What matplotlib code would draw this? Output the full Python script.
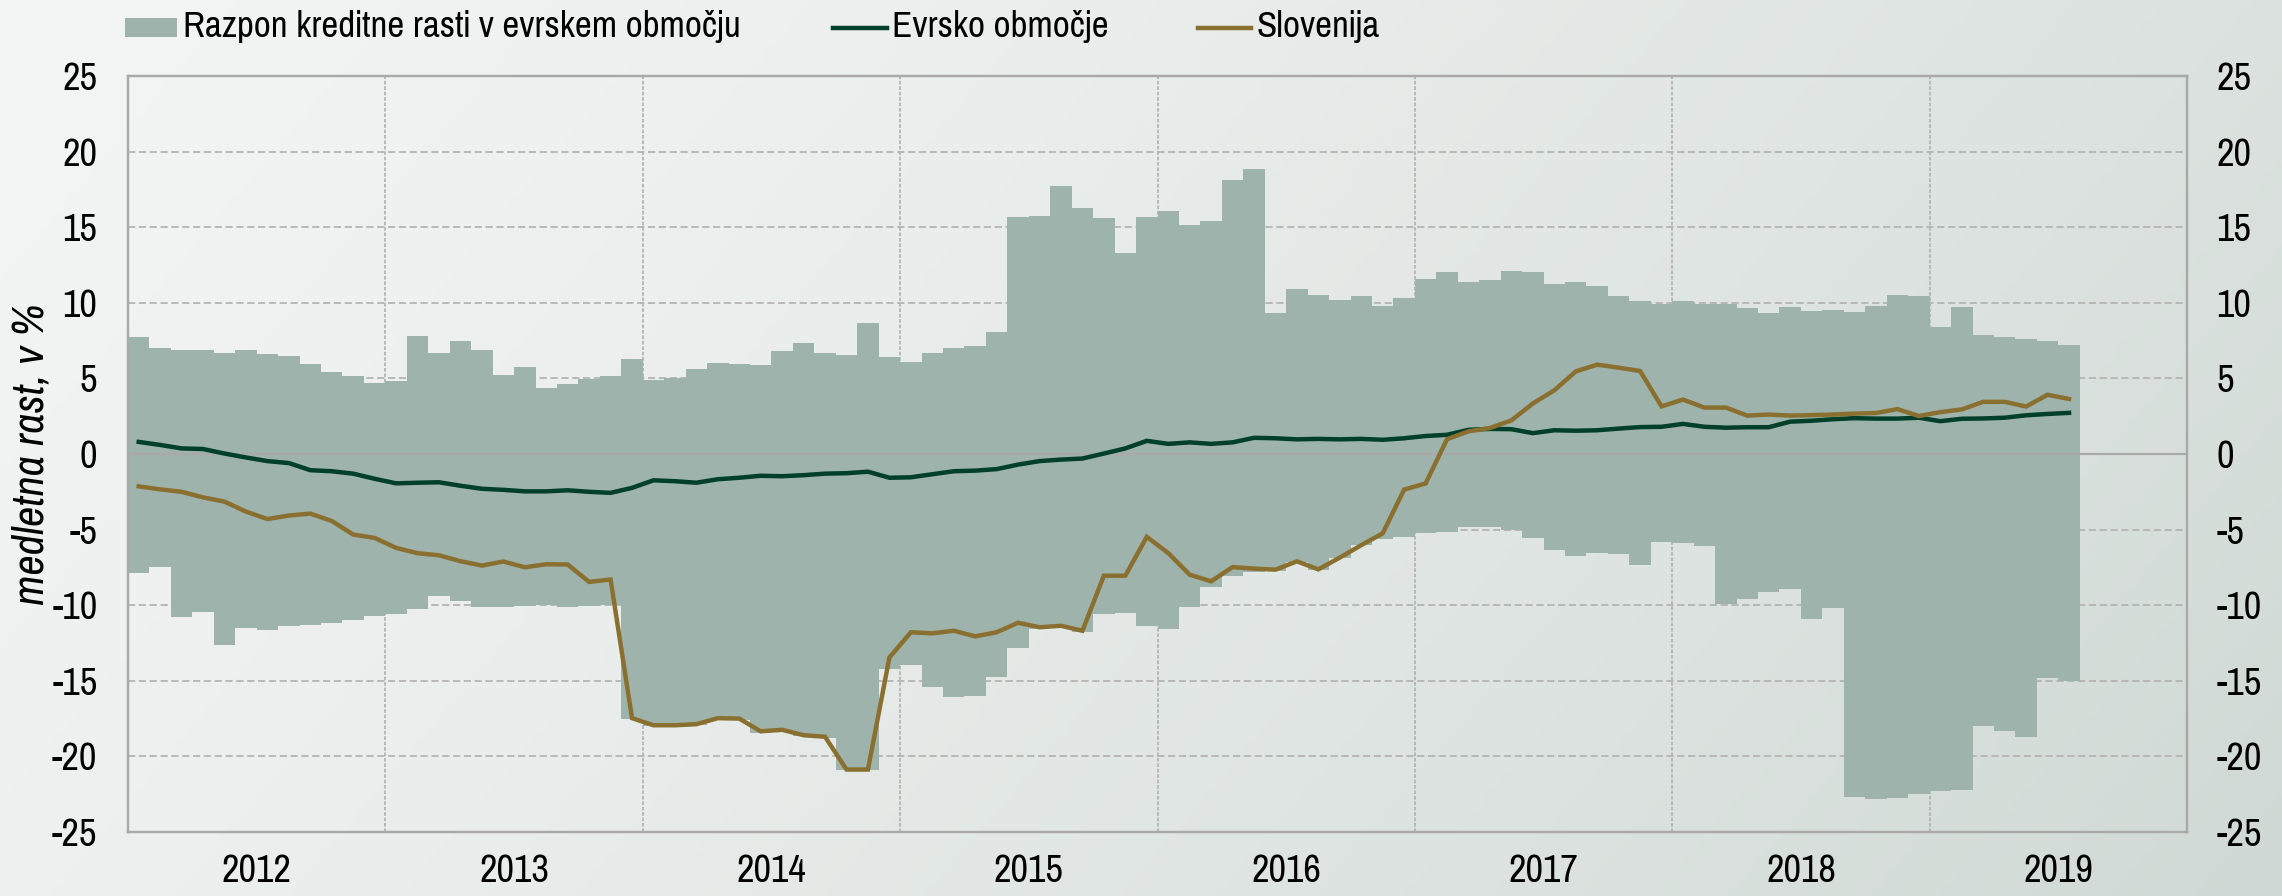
"""Credit growth range in the euro area vs. Slovenia (monthly, y/y %)."""

import numpy as np
import matplotlib

matplotlib.use("Agg")
import matplotlib.pyplot as plt
from matplotlib.lines import Line2D
from matplotlib.patches import Rectangle

years = ["2012", "2013", "2014", "2015", "2016", "2017", "2018", "2019"]

# monthly values, Jan 2012 - Jul 2019
range_max = [
    7.75, 6.98, 6.91, 6.85, 6.71, 6.85, 6.61, 6.45, 5.95, 5.41, 5.18, 4.71,
    4.84, 7.78, 6.68, 7.45, 6.85, 5.24, 5.74, 4.38, 4.61, 4.98, 5.18, 6.31,
    4.91, 5.01, 5.61, 6.05, 5.98, 5.88, 6.81, 7.35, 6.68, 6.58, 8.68, 6.41,
    6.11, 6.65, 6.98, 7.11, 8.05, 15.66, 15.73, 17.70, 16.27, 15.63, 13.29, 15.70,
    16.07, 15.16, 15.40, 18.14, 18.87, 9.35, 10.89, 10.49, 10.19, 10.45, 9.79, 10.32,
    11.59, 12.06, 11.39, 11.52, 12.12, 12.02, 11.26, 11.39, 11.12, 10.42, 10.09, 9.95,
    10.09, 9.92, 9.89, 9.65, 9.32, 9.75, 9.45, 9.55, 9.39, 9.82, 10.52, 10.45,
    8.42, 9.69, 7.85, 7.75, 7.58, 7.48, 7.20,
]
range_min = [
    -7.89, -7.49, -10.79, -10.46, -12.62, -11.54, -11.65, -11.39, -11.34, -11.17, -10.99, -10.70,
    -10.55, -10.24, -9.41, -9.71, -10.15, -10.09, -10.07, -9.96, -10.13, -10.04, -9.96, -17.50,
    -18.02, -18.02, -17.95, -17.55, -17.58, -18.42, -18.32, -18.68, -18.78, -20.90, -20.90, -14.23,
    -13.93, -15.40, -16.07, -16.03, -14.73, -12.83, -11.55, -11.45, -11.75, -10.55, -10.49, -11.39,
    -11.59, -10.09, -8.82, -8.05, -7.82, -7.76, -7.15, -7.68, -6.90, -6.05, -5.62, -5.49,
    -5.22, -5.14, -4.81, -4.81, -5.00, -5.56, -6.35, -6.77, -6.53, -6.59, -7.34, -5.84,
    -5.91, -6.08, -9.92, -9.59, -9.15, -8.95, -10.92, -10.19, -22.70, -22.85, -22.75, -22.50,
    -22.30, -22.20, -18.02, -18.30, -18.70, -14.80, -15.00,
]
euro_area = [
    0.80, 0.60, 0.37, 0.33, 0.03, -0.23, -0.47, -0.60, -1.07, -1.14, -1.30, -1.64,
    -1.94, -1.90, -1.87, -2.10, -2.30, -2.37, -2.47, -2.47, -2.40, -2.50, -2.57, -2.24,
    -1.74, -1.80, -1.90, -1.67, -1.57, -1.44, -1.47, -1.40, -1.30, -1.27, -1.17, -1.57,
    -1.54, -1.34, -1.14, -1.10, -1.00, -0.70, -0.47, -0.37, -0.30, 0.03, 0.37, 0.87,
    0.67, 0.77, 0.67, 0.77, 1.07, 1.04, 0.97, 1.00, 0.97, 1.00, 0.94, 1.04,
    1.19, 1.27, 1.60, 1.66, 1.64, 1.38, 1.57, 1.54, 1.57, 1.68, 1.78, 1.80,
    1.99, 1.80, 1.74, 1.77, 1.77, 2.14, 2.20, 2.30, 2.37, 2.34, 2.34, 2.40,
    2.17, 2.33, 2.35, 2.40, 2.56, 2.65, 2.72,
]
slovenia = [
    -2.14, -2.34, -2.50, -2.87, -3.15, -3.81, -4.30, -4.07, -3.94, -4.43, -5.33, -5.55,
    -6.21, -6.56, -6.70, -7.09, -7.38, -7.11, -7.49, -7.29, -7.31, -8.46, -8.30, -17.47,
    -17.94, -17.94, -17.87, -17.47, -17.50, -18.34, -18.24, -18.60, -18.70, -20.87, -20.87, -13.46,
    -11.79, -11.86, -11.69, -12.06, -11.79, -11.16, -11.46, -11.36, -11.69, -8.05, -8.05, -5.48,
    -6.55, -7.98, -8.42, -7.48, -7.58, -7.65, -7.10, -7.63, -6.85, -6.03, -5.25, -2.35,
    -1.95, 0.98, 1.50, 1.72, 2.22, 3.34, 4.21, 5.46, 5.91, 5.71, 5.49, 3.15,
    3.60, 3.07, 3.07, 2.54, 2.61, 2.54, 2.57, 2.61, 2.67, 2.71, 2.97, 2.51,
    2.77, 2.95, 3.45, 3.45, 3.14, 3.92, 3.64,
]
labels = ["Razpon kreditne rasti v evrskem območju", "Evrsko območje", "Slovenija"]

FILL = "#9eb3ab"
EURO = "#00402a"
SLO = "#8a7030"
GRID = "#b4b4b4"
W, H = 2282, 896


def fx(px):
    return px / W


def fy(py):
    return 1 - py / H


def main() -> None:
    plt.rcParams["font.family"] = ["Pragati Narrow", "Archivo Narrow", "DejaVu Sans"]
    fs_tick = 30
    fs_leg = 29

    fig = plt.figure(figsize=(W / 100, H / 100), dpi=100)

    # soft diagonal background gradient
    bg = fig.add_axes([0, 0, 1, 1], zorder=-10)
    gx, gy = np.meshgrid(np.linspace(0, 1, 400), np.linspace(0, 1, 160))
    t = np.clip(0.75 * gx + 0.25 * gy, 0, 1) ** 1.3
    c0 = np.array([243, 245, 244]) / 255
    c1 = np.array([208, 217, 213]) / 255
    img = c0 + (c1 - c0) * t[..., None]
    bg.imshow(img, aspect="auto", extent=(0, 1, 0, 1), origin="upper")
    bg.set_axis_off()

    ax = fig.add_axes([fx(128), fy(832), fx(2187) - fx(128), fy(76) - fy(832)])
    ax.patch.set_alpha(0)

    n = len(range_max)
    edges = np.arange(n + 1)
    lo = np.append(range_min, range_min[-1])
    hi = np.append(range_max, range_max[-1])
    ax.fill_between(edges, lo, hi, step="post", color=FILL, lw=0, zorder=2)

    mid = np.arange(n) + 0.5
    ax.axhline(0, color="#a9a9a9", lw=1.6, zorder=3)
    ax.plot(mid, euro_area, color=EURO, lw=3.2, zorder=4, solid_joinstyle="miter")
    ax.plot(mid, slovenia, color=SLO, lw=3.2, zorder=5, solid_joinstyle="miter")

    ax.set_xlim(0, 12 * len(years))
    ax.set_ylim(-25, 25)

    yt = np.arange(-25, 26, 5)
    for v in yt:
        if v not in (-25, 0, 25):
            ax.axhline(v, color=GRID, lw=1.3, ls=(0, (4, 2)), zorder=1)
    for k in range(1, len(years)):
        ax.axvline(12 * k, color=GRID, lw=1.3, ls=(0, (2, 1)), zorder=1)

    ax.set_yticks(yt)
    ax.set_yticklabels([str(v) for v in yt])
    ax.tick_params(axis="y", length=0, labelsize=fs_tick, pad=22)
    ax.set_xticks(np.arange(len(years)) * 12 + 6)
    ax.set_xticklabels(years)
    ax.tick_params(axis="x", length=0, labelsize=fs_tick, pad=16)

    ax2 = ax.twinx()
    ax2.set_ylim(-25, 25)
    ax2.set_yticks(yt)
    ax2.set_yticklabels([str(v) for v in yt])
    ax2.tick_params(axis="y", length=0, labelsize=fs_tick, pad=21)

    for a in (ax, ax2):
        for s in a.spines.values():
            s.set_color("#a9a9a9")
            s.set_linewidth(1.6)

    fig.text(0.014, fy(454), "medletna rast, v %", rotation=90, ha="center",
             va="center", fontsize=32, style="italic",
             family=["Archivo Narrow", "DejaVu Sans"])

    # legend laid out by hand to match the original column positions
    fig.patches.append(Rectangle((fx(125), fy(37)), fx(177) - fx(125), fy(18) - fy(37),
                                 transform=fig.transFigure, facecolor=FILL,
                                 edgecolor="none"))
    fig.lines.append(Line2D([fx(833), fx(887)], [fy(27.7)] * 2, color=EURO, lw=3.2,
                            transform=fig.transFigure))
    fig.lines.append(Line2D([fx(1198), fx(1251)], [fy(27.7)] * 2, color=SLO, lw=3.2,
                            transform=fig.transFigure))
    for xpos, text in zip((183, 892, 1257), labels):
        fig.text(fx(xpos), fy(37.3), text, ha="left", va="baseline", fontsize=fs_leg)

    fig.savefig("out.png", dpi=100)
    plt.close(fig)


if __name__ == "__main__":
    main()
